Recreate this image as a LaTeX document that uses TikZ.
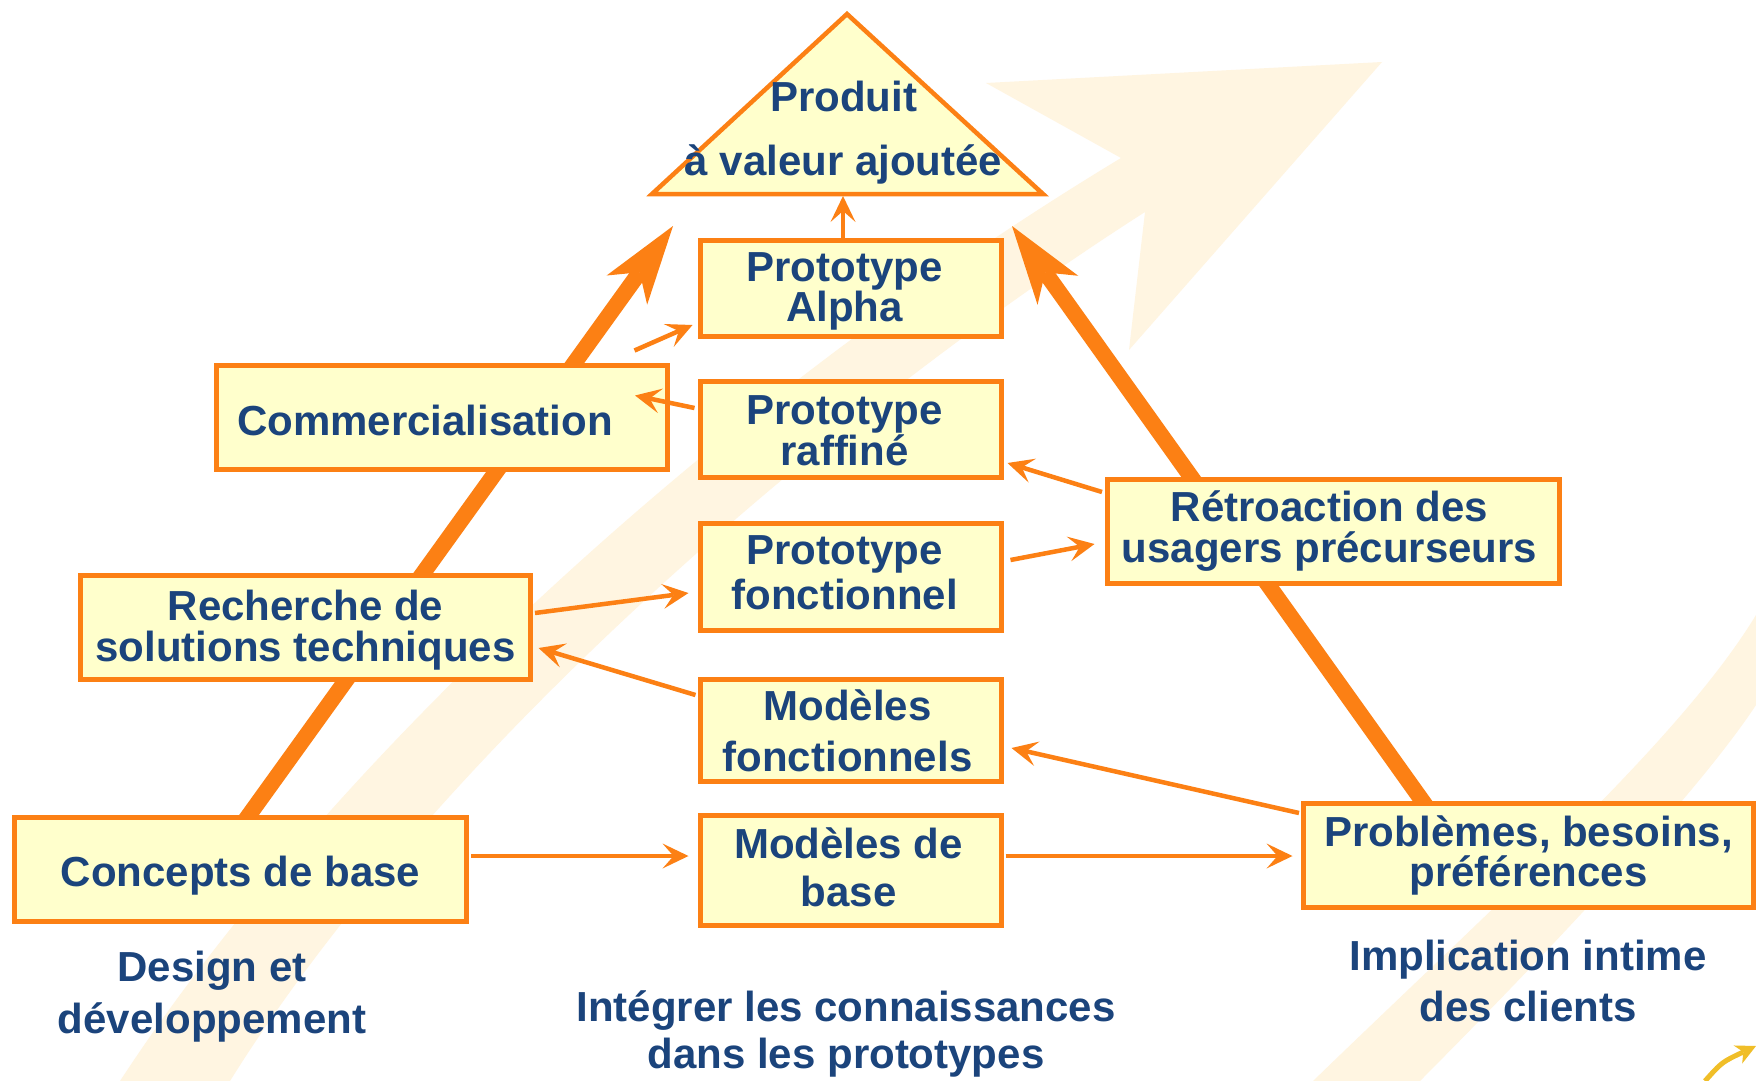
\documentclass[tikz,border=0pt]{standalone}
\usepackage{fontspec}
\setmainfont{Liberation Sans}
\usetikzlibrary{arrows.meta,calc}
\definecolor{orng}{RGB}{252,128,20}
\definecolor{boxfill}{RGB}{255,255,204}
\definecolor{navy}{RGB}{27,68,124}
\definecolor{pale}{RGB}{255,245,225}
\definecolor{goldc}{RGB}{240,190,40}
\newcommand\bfz[1]{\bfseries\fontsize{42pt}{#1pt}\selectfont}
\pgfdeclarelayer{bglayer}
\pgfdeclarelayer{midlayer}
\pgfsetlayers{bglayer,midlayer,main}
\begin{document}
\begin{tikzpicture}[x=1pt,y=-1pt,
  box/.style={draw=orng, line width=5pt, fill=boxfill, inner sep=0pt, text=navy, align=center},
  lbl/.style={text=navy, inner sep=0pt, align=center},
  link/.style={draw=orng, line width=4.5pt, -{Stealth[length=26pt,width=25pt,inset=11pt,line width=0pt]}},
  bigarrow/.style={draw=orng, line width=16pt, -{Stealth[length=79pt,width=50pt,inset=22pt,line width=0pt]}},
]
\useasboundingbox (0,0) rectangle (1756,1081);
\begin{pgfonlayer}{bglayer}
\fill[white] (0,0) rectangle (1756,1081);
% faint background arrows
\begin{scope}
\clip (0,0) rectangle (1756,1081);
\fill[pale] (120,1081) .. controls (330,760) and (720,400) .. (1121,158)
  -- (986,83) -- (1382,62) -- (1129,350) -- (1145,212)
  .. controls (820,420) and (430,760) .. (230,1081) -- cycle;
\fill[pale] (1313,1081) .. controls (1500,900) and (1680,740) .. (1756,615)
  -- (1756,705) .. controls (1700,790) and (1560,940) .. (1420,1081) -- cycle;
\draw[goldc, line width=5pt, -{Stealth[length=20pt,width=20pt,inset=6pt,line width=0pt]}]
  (1705,1081) .. controls (1722,1062) .. (1756,1046);
\end{scope}
\end{pgfonlayer}

% top triangle
\draw[draw=orng, line width=4.5pt, fill=boxfill, line join=miter] (847,14) -- (1043,194) -- (652,194) -- cycle;
\coordinate (tribase) at (843,196);
\node[lbl, text height=94.3pt, text depth=8.3pt, font=\bfz{63.3}] (produit) at (843.5,132) {Produit\\à valeur ajoutée};

% boxes (named)
\path
  node[box, minimum width=301pt, minimum height=96pt, text height=71pt, text depth=3.6pt, font=\bfz{40}] (alpha) at (850.5,288) {Prototype\kern12pt\\Alpha\kern12pt}
  node[box, minimum width=301pt, minimum height=96pt, text height=74pt, text depth=0.4pt, font=\bfz{41.4}] (raff) at (850.5,429) {Prototype\kern12pt\\raffiné\kern12pt}
  node[box, minimum width=301pt, minimum height=107pt, text height=76pt, text depth=11pt, font=\bfz{45}] (fonct) at (850.5,577) {Prototype\kern12pt\\fonctionnel\kern12pt}
  node[box, minimum width=301pt, minimum height=102pt, text height=81.5pt, text depth=0.1pt, font=\bfz{50.5}] (modf) at (850.5,730.5) {Modèles\kern6pt\\fonctionnels\kern6pt}
  node[box, minimum width=301pt, minimum height=110pt, text height=79.2pt, text depth=5.8pt, font=\bfz{48.2}] (modb) at (850.5,870) {Modèles de\kern4pt\\base\kern4pt}
  node[box, minimum width=451pt, minimum height=104pt, text height=35pt, text depth=0pt, font=\bfz{42}] (comm) at (442,417.5) {Commercialisation\kern34pt}
  node[box, minimum width=450pt, minimum height=104pt, text height=72.7pt, text depth=4.3pt, font=\bfz{41.7}] (rech) at (305.5,627.5) {Recherche de\\solutions techniques}
  node[box, minimum width=452pt, minimum height=104pt, text height=33pt, text depth=0pt, font=\bfz{42}] (conc) at (240.5,869.5) {Concepts de base}
  node[box, minimum width=452pt, minimum height=104pt, text height=72pt, text depth=9.6pt, font=\bfz{41}] (retro) at (1333.5,531.5) {Rétroaction des\kern8pt\\usagers précurseurs\kern8pt}
  node[box, minimum width=450pt, minimum height=104pt, text height=71pt, text depth=8.6pt, font=\bfz{40}] (prob) at (1528.5,855.5) {Problèmes, besoins,\\préférences};

% thick arrows, behind the boxes
\coordinate (ltip) at (673,226);
\coordinate (rtip) at (1012,226);
\begin{pgfonlayer}{midlayer}
\draw[bigarrow] ($(conc.north)+(2.7,8.1)$) -- (ltip);
\draw[bigarrow] ($(prob.north)+(-100.2,8.2)$) -- (rtip);
\end{pgfonlayer}

% bottom labels
\node[lbl, text height=82.3pt, text depth=16.3pt, font=\bfz{51.3}] (design) at (212,1000) {Design et\\développement};
\node[lbl, text height=78pt, text depth=22pt, font=\bfz{47}] (integ) at (846,1040) {Intégrer les connaissances\\dans les prototypes};
\node[lbl, text height=82pt, text depth=20pt, font=\bfz{51}] (impl) at (1528,990) {Implication intime\\des clients};

% thin connectors
\draw[link] ($(alpha.north)+(-7.5,0)$) -- (tribase);
\draw[link] ($(comm.north east)+(-35.5,-12.5)$) -- ($(alpha.west)+(-5,37)$);
\draw[link] ($(raff.west)+(-3,-21)$) -- ($(comm.east)+(-35,-22)$);
\draw[link] ($(rech.east)+(2,-14.5)$) -- ($(fonct.west)+(-9,16)$);
\draw[link] ($(modf.west)+(-2,-35.5)$) -- ($(rech.east)+(5.5,20.5)$);
\draw[link] ($(conc.east)+(2,-13.5)$) -- ($(modb.west)+(-9,-14)$);
\draw[link] ($(modb.east)+(2,-14)$) -- ($(prob.west)+(-8.5,0.5)$);
\draw[link] ($(prob.west)+(-2,-42.5)$) -- ($(modf.east)+(8,17.5)$);
\draw[link] ($(retro.west)+(-3,-39.5)$) -- ($(raff.east)+(4,34)$);
\draw[link] ($(fonct.east)+(7,-17)$) -- ($(retro.west)+(-10.5,12.5)$);
\end{tikzpicture}
\end{document}
